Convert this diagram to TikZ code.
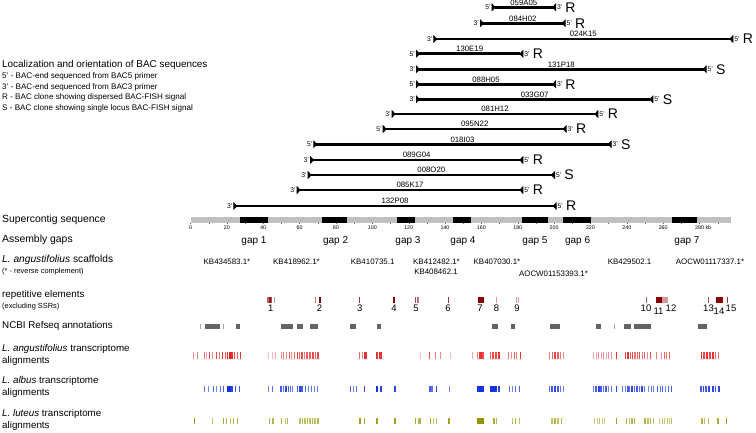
\documentclass[tikz,border=0pt]{standalone}
\usepackage{fontspec}
\setmainfont{Liberation Sans}
\usetikzlibrary{arrows.meta,positioning}
\definecolor{contiggrey}{RGB}{192,192,192}
\definecolor{refgrey}{RGB}{100,100,100}
\definecolor{repred}{RGB}{139,0,0}
\definecolor{angred}{RGB}{232,28,28}
\definecolor{albblue}{RGB}{22,52,222}
\definecolor{lutolive}{RGB}{150,150,0}
\tikzset{
  bacline/.style={line width=2.8pt,
    {Triangle[reversed,length=4pt,width=8pt]}-{Triangle[reversed,length=4pt,width=8pt]}},
  baclbl/.style={above, inner sep=0.8pt, font=\fontsize{7.8}{8}\selectfont},
  endlbl/.style={inner sep=0.8pt, font=\fontsize{6.8}{7}\selectfont},
  fishlbl/.style={inner sep=0.5pt, font=\fontsize{14}{15}\selectfont},
  rowlbl/.style={anchor=west, inner sep=0pt, align=left, font=\fontsize{9.8}{11.7}\selectfont},
  notelbl/.style={anchor=west, inner sep=0pt, align=left, font=\fontsize{7.4}{8}\selectfont},
  axlbl/.style={inner sep=0pt, font=\fontsize{5.3}{6}\selectfont},
  gaplbl/.style={inner sep=0pt, font=\fontsize{10}{11}\selectfont},
  scflbl/.style={inner sep=0pt, font=\fontsize{7.9}{9}\selectfont},
  replbl/.style={inner sep=0pt, font=\fontsize{9.5}{10}\selectfont},
}

\begin{document}
\begin{tikzpicture}[x=1pt, y=-1pt]
    \useasboundingbox (0,0) rectangle (756,432);
    % legend
    \node[rowlbl, font=\fontsize{9.9}{11}\selectfont] (title) at (2,65) {Localization and orientation of BAC sequences};
    \node[notelbl, font=\fontsize{8.1}{10.5}\selectfont] (legend) at (2,92.5) {5' - BAC-end sequenced from BAC5 primer\\
      3' - BAC-end sequenced from BAC3 primer\\
      R - BAC clone showing dispersed BAC-FISH signal\\
      S - BAC clone showing single locus BAC-FISH signal};
    % BAC clones
    \foreach \n/\y/\xa/\xb/\ea/\eb/\t in {
        059A05/7.3/491.7/556/5/3/R, 084H02/23.3/480/565.7/3/5/R,
        024K15/39/433.3/733.3/3/5/R, 130E19/53.8/416/523.3/5/3/R,
        131P18/69.3/416/706.7/3/5/S, 088H05/84.3/416/556/5/3/R,
        033G07/99.3/416/653.3/3/5/S, 081H12/114/391.7/598.3/3/5/R,
        095N22/129/382.7/566.7/5/3/R, 018I03/144.3/313.3/611.7/5/3/S,
        089G04/160/310/523.3/3/5/R, 008O20/175/307.7/555/3/5/S,
        085K17/190/296.7/523.3/3/5/R, 132P08/206/233.3/556.7/3/5/R} {
      \coordinate (\n-l) at (\xa,\y);
      \coordinate (\n-r) at (\xb,\y);
      \draw[bacline] (\n-l) -- node[baclbl] (\n-name) {\n} (\n-r);
      \node[endlbl, anchor=east] (\n-a) at (\n-l) {\ea'};
      \node[endlbl, anchor=west] (\n-b) at (\n-r) {\eb'};
      \node[fishlbl, right=1.5pt of \n-b] (\n-t) {\t};
    }
    % supercontig and gaps
    \node[rowlbl, font=\fontsize{10.4}{11}\selectfont] (contiglbl) at (2,220) {Supercontig sequence};
    \fill[contiggrey] (191,217) rectangle (731,222.5);
    \foreach \a/\b in {240/267.7, 321.7/347.3, 396.7/415, 452.7/470.7,
        521.7/548.3, 563.3/591, 671.7/697}
      \fill (\a,216.6) rectangle (\b,222.9);
    \foreach \k in {0,10,...,290}
      \draw[line width=0.3pt, black!60] (190.5+1.818*\k,222.5) -- ++(0,1.6);
    \foreach \k in {0,20,...,260}
      \node[axlbl] (ax\k) at (190.5+1.818*\k,227.5) {\k};
    \node[axlbl, anchor=west] (ax280) at (695,227.5) {280 kb};
    \node[rowlbl, font=\fontsize{10.4}{11}\selectfont] (gapslbl) at (2,240) {Assembly gaps};
    \foreach \g/\x in {1/254, 2/335.6, 3/408, 4/463, 5/535, 6/577.6, 7/687}
      \node[gaplbl] (gap\g) at (\x,241) {gap \g};
    % scaffolds
    \node[rowlbl, font=\fontsize{10.2}{11}\selectfont] (scflbl) at (2,260) {\textit{L. angustifolius} scaffolds};
    \node[notelbl] (scfnote) at (2,271.5) {(* - reverse complement)};
    \foreach \s/\x/\y in {KB434583.1*/227/262, KB418962.1*/296.5/262, KB410735.1/372.7/262,
        KB412482.1*/436.5/261.5, KB408462.1/436/271.8, KB407030.1*/497/262,
        AOCW01153393.1*/553.5/274, KB429502.1/629.6/262, AOCW01117337.1*/710/262}
      \node[scflbl] (\s) at (\x,\y) {\s};
    % repetitive elements
    \node[rowlbl] (replbl) at (2,295) {repetitive elements};
    \node[notelbl] (repnote) at (2,306.7) {(excluding SSRs)};
    \foreach \a/\b/\o in {267/268.5/0.6, 269/270.5/0.9, 271/272.2/0.7, 273.5/274.5/0.4,
        314.5/315.5/0.5, 318.7/321.3/1, 359.3/360.3/0.8, 392.9/395.4/1,
        414.9/416/0.7, 416.5/417.5/0.6, 418/418.8/0.5, 447.5/448.5/0.8,
        478.4/483.9/1, 496/497/0.4, 515.5/516.3/0.4, 518/518.8/0.4,
        645.5/646.5/0.6, 656.4/661.5/1, 662.2/668/0.4, 708/709/0.7,
        715.8/723.2/1, 727.2/728.2/0.8}
      \fill[repred, opacity=\o] (\a,296.5) rectangle (\b,303);
    \foreach \r/\x/\y in {1/270.7/308.5, 2/319.5/308.5, 3/359.8/308.5, 4/394/308.5,
        5/416/308.5, 6/448/308.5, 7/480/308.5, 8/496.4/308.5, 9/517/308.5,
        10/646/308.5, 11/658.5/311.2, 12/671/308.5, 13/708.5/308.5,
        14/719/311.2, 15/731/308.5}
      \node[replbl] (rep\r) at (\x,\y) {\r};
    % NCBI annotations
    \node[rowlbl] (ncbilbl) at (2,325.7) {NCBI Refseq annotations};
    \foreach \a/\b/\o in {200/201/0.6, 204.6/219.6/1, 223/224/0.6, 235.8/239.5/1,
        281/293/1, 296.7/303/1, 310.3/317.6/1, 350/356/1, 377/381/1,
        492/497.8/1, 511/514.7/1, 550/560/1, 595.8/601.3/1, 614/615/0.6,
        624/631.4/1, 634/651/1, 698/707.4/1}
      \fill[refgrey, opacity=\o] (\a,324.3) rectangle (\b,329.3);
    % transcriptome alignments
    \node[rowlbl] (anglbl) at (2,355.2) {\textit{L. angustifolius} transcriptome\\alignments};
    \foreach \a/\b/\o in {192.5/193.7/0.5, 196.5/197.7/0.6,
        204/205.2/0.6, 206/207.2/0.4, 208.5/209.7/0.8, 212/213.2/0.5, 215.5/216.7/0.8,
        219/220.2/0.6, 221.5/222.7/0.9, 224.5/225.7/0.7, 226.5/228/1, 228.5/230.5/1,
        231/232.5/0.9, 234/235.2/0.8, 236.5/237.7/0.7, 239.5/240.7/0.9,
        268/269.2/0.3, 271.5/272.7/0.3, 274.5/275.7/0.4,
        281/282.2/0.5, 283/284.2/0.6, 286/287.2/0.5, 288.5/289.7/0.7, 291/292.2/0.5,
        293.5/294.7/0.7, 296.5/298/0.8, 299/300.2/0.7, 301/302.5/0.8, 303.5/304.7/0.6,
        306/308/0.7, 309/311/0.7, 312/313.5/0.8, 314.5/316/0.7, 317/318.7/0.8,
        359/360.2/0.7, 361.5/362.7/0.5, 364/367/0.9, 376/378/0.9, 379/382/0.9,
        420/421.2/0.3, 429/430.2/0.8, 434.5/435.7/0.6, 440/441.2/0.5, 449.5/450.7/0.3,
        471.5/472.7/0.4, 477/478.2/0.6, 479/481.5/0.9, 482/484/0.8,
        490/491.2/0.7, 492/494/0.8, 495/497/0.8, 498/500/0.9,
        507.5/508.7/0.6, 510.5/511.7/0.5, 513.5/514.7/0.7, 516/517.2/0.6, 519.5/520.7/0.9,
        549/550.2/0.6, 551.5/553/0.7, 554/556/0.8, 557/559/0.7, 560/561.2/0.6, 562.5/563.7/0.5,
        593/594.2/0.4, 595.5/596.7/0.4, 598/599.2/0.5, 600.5/601.7/0.4, 603/604.2/0.5,
        605.5/606.7/0.4, 608/609.2/0.5, 610.5/611.7/0.5, 616/617.2/0.9,
        625/626.2/0.8, 627/629/0.9, 629.5/631/0.7, 632/633.2/0.8, 634/635.5/0.6,
        636.5/638/0.7, 639/640.2/0.8, 641.5/643/0.6, 644/645.2/0.7, 646.5/647.7/0.5, 650/651.2/0.8,
        656/657.2/0.6, 661/662.2/0.5, 663.5/664.7/0.7, 666/667.2/0.6, 669/670.2/0.7,
        701/702.2/0.9, 703/705/0.8, 706/708/0.9, 709/711/0.8, 712/714/0.9, 715/716.2/0.7, 718/719.2/0.6}
      \fill[angred, opacity=\o] (\a,351.5) rectangle (\b,358.5);
    \node[rowlbl] (alblbl) at (2,386.7) {\textit{L. albus} transcriptome\\alignments};
    \foreach \a/\b/\o in {204/205.2/0.7, 207.5/208.7/0.6, 212.5/213.7/0.7, 216/217.2/0.6,
        219.5/220.7/0.7, 222.5/223.7/0.8, 227/230.5/1, 231/232.5/0.9, 234.5/235.7/0.8, 238.5/239.7/0.8,
        268/269.2/0.6, 271.5/273/0.7,
        280/282/0.8, 282.5/284/0.7, 285/287/0.9, 287.5/289/0.8, 290/291.2/0.7, 292/293.2/0.6,
        296.5/298/0.8, 298.5/300.5/0.9, 301/302.5/0.8, 305/306.2/0.7, 307.5/308.7/0.6,
        310.5/311.7/0.7, 314/315.2/0.6, 317/318.2/0.7,
        350/351.2/0.8, 352.5/353.7/0.6, 356/357.2/0.7, 363.5/364.7/0.9,
        376/378/1, 379.5/381.5/0.9, 393.5/395.5/0.9,
        428.5/430.5/0.8, 431/432.5/0.7, 435.5/436.7/0.9, 448.5/449.5/0.6,
        477/484/1, 490/497/1, 497.5/500/0.9,
        508.5/509.7/0.7, 511.5/512.7/0.6, 515/516.2/0.7, 519/520.2/0.8,
        549/550.2/0.7, 551/553/0.8, 554/556/0.9, 557/558.5/0.8, 559.5/561/0.7, 562.5/563.7/0.6,
        593/594.2/0.6, 595/597/0.8, 597.5/599.5/0.9, 600/601.5/0.8, 602.5/603.7/0.7,
        605/606.5/0.8, 608/609.2/0.6, 611/612.2/0.7, 616/617.2/0.9,
        622/623.2/0.7, 625/626.2/0.6, 627/628.5/0.8, 629/630.2/0.7, 631/633/0.9, 634/635.2/0.7,
        636/637.5/0.8, 638.5/639.7/0.7, 641/643/0.9, 644/645.2/0.7, 647.5/648.7/0.6,
        650.5/651.7/0.7, 652.5/653.5/0.6,
        657/658.2/0.8, 659.5/661/0.7, 662/663.2/0.8, 665/666.2/0.6, 667.5/668.7/0.7, 670.5/671.7/0.8,
        700/701.5/0.8, 702.5/704/0.9, 705/706.5/0.8, 708/709.5/0.9, 712/714/0.9, 714.5/716/0.8, 718/720/0.9}
      \fill[albblue, opacity=\o] (\a,385.5) rectangle (\b,391.5);
    \node[rowlbl] (lutlbl) at (2,419.7) {\textit{L. luteus} transcriptome\\alignments};
    \foreach \a/\b/\o in {193.5/195/0.9, 212/213.2/0.6,
        223/224.2/0.8, 225.5/226.7/0.7, 230/231.2/0.6, 233/234.2/0.7, 236.5/237.7/0.8,
        268.5/269.7/0.7, 272/273.5/0.7, 281/282.2/0.7, 284.5/285.7/0.6, 287/288.2/0.7,
        299/300.5/0.6, 301.5/303/0.7, 304/305.5/0.6, 306.5/308/0.7, 309/310.5/0.6,
        311.5/313/0.7, 314/315.5/0.6, 316.5/318.5/0.7,
        359/361/0.9, 363.5/365/0.8, 376/378/0.9, 393.8/395.8/0.9,
        414.5/415.7/0.8, 418/420.5/0.7, 429.5/430.7/0.8, 432.5/433.7/0.6, 435.5/437/0.7,
        448/449.5/0.9, 477/484/1, 493/494.5/0.8, 495.5/497/0.7,
        512/513.2/0.6, 515/516.2/0.7, 518.5/519.7/0.6,
        551/552.5/0.6, 554/555.5/0.7, 557/558.5/0.6, 560.5/561.7/0.7,
        594/595.2/0.5, 596.5/597.7/0.5, 599/600.2/0.6, 602/603.2/0.5, 604/605.2/0.5,
        616/617.2/0.9, 626/627.2/0.7, 628.5/629.7/0.6, 631/633/0.7, 634/635.2/0.7,
        644/645.5/0.7, 647/648.5/0.6, 650/651.2/0.7, 652.5/653.5/0.6,
        659/660.2/0.5, 661.5/662.7/0.6, 664/665.2/0.5, 666.5/667.7/0.6, 669/670.2/0.5, 671/672/0.6,
        701/702.5/0.7, 704/705.2/0.6, 707.5/708.7/0.6, 716.5/718.8/0.8, 726/727.2/0.9}
      \fill[lutolive, opacity=\o] (\a,418) rectangle (\b,424);
\end{tikzpicture}
\end{document}
